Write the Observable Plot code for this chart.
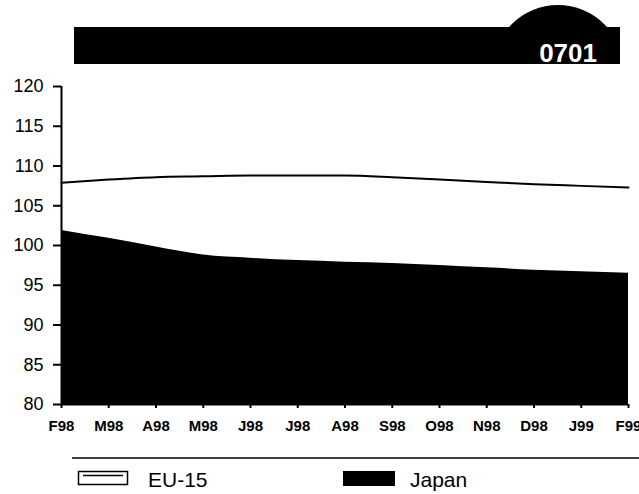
<!DOCTYPE html>
<html><head><meta charset="utf-8">
<script src="https://cdn.jsdelivr.net/npm/d3@7"></script>
<script src="https://cdn.jsdelivr.net/npm/@observablehq/plot@0.6"></script>
<style>
body{margin:0;background:#fff;font-family:"Liberation Sans",Arial,Helvetica,sans-serif;}
#page{position:relative;width:639px;height:494px;overflow:hidden;background:#fff;}
#header{position:absolute;left:0;top:0;}
#chart{position:absolute;left:0;top:70px;}
#legend{position:absolute;left:0;top:440px;}
</style>
</head><body>
<div id="page">
  <svg id="header" width="639" height="70">
    <defs>
      <clipPath id="domeClip"><rect x="0" y="0" width="639" height="28"></rect></clipPath>
    </defs>
    <circle cx="558" cy="70.5" r="65.5" fill="#000" clip-path="url(#domeClip)"></circle>
    <rect x="74" y="27" width="546" height="37" fill="#000"></rect>
    <text x="597" y="62" text-anchor="end" fill="#fff" font-size="26" font-weight="bold" font-family="Liberation Sans, Arial, sans-serif">0701</text>
  </svg>
  <div id="chart"></div>
  <svg id="legend" width="639" height="54">
    <line x1="72" x2="639" y1="18" y2="18" stroke="#000" stroke-width="1.5"></line>
    <rect x="78.5" y="31.5" width="49" height="13" fill="#fff" stroke="#000" stroke-width="1.5"></rect>
    <line x1="83" x2="123" y1="35.5" y2="35.5" stroke="#000" stroke-width="1.5"></line>
    <text x="148" y="47" font-size="21" fill="#000" font-family="Liberation Sans, Arial, sans-serif">EU-15</text>
    <rect x="343" y="31" width="52" height="15" fill="#000"></rect>
    <text x="410" y="47" font-size="21" fill="#000" font-family="Liberation Sans, Arial, sans-serif">Japan</text>
  </svg>
</div>
<script>
const months = ["F98","M98","A98","M98","J98","J98","A98","S98","O98","N98","D98","J99","F99"];
const eu15  = [107.9,108.3,108.6,108.7,108.8,108.8,108.8,108.6,108.3,108.0,107.7,107.5,107.3];
const japan = [101.9,100.9,99.8,98.8,98.4,98.1,97.9,97.75,97.5,97.2,96.9,96.7,96.5];
const yTicks = [80,85,90,95,100,105,110,115,120];

const data = months.map((m, i) => ({i, eu: eu15[i], jp: japan[i]}));

const chart = Plot.plot({
  width: 639,
  height: 375,
  marginTop: 16,
  marginBottom: 41,
  marginLeft: 61,
  marginRight: 11,
  style: {fontFamily: "Liberation Sans, Arial, Helvetica, sans-serif", background: "transparent", color: "#000"},
  x: {domain: [0, 12]},
  y: {domain: [80, 120]},
  marks: [
    Plot.areaY(data, {x: "i", y1: 80, y2: "eu", fill: "white", curve: "monotone-x"}),
    Plot.lineY(data, {x: "i", y: "eu", stroke: "black", strokeWidth: 2, curve: "monotone-x"}),
    Plot.areaY(data, {x: "i", y1: 80, y2: "jp", fill: "black", curve: "monotone-x"}),
    Plot.axisY({ticks: yTicks, tickSize: 8, tickPadding: 10, fontSize: 18, strokeWidth: 2, label: null}),
    Plot.axisX({ticks: d3.range(months.length), tickFormat: i => months[i], tickSize: 4, tickPadding: 12, fontSize: 15, fontWeight: "bold", strokeWidth: 2, label: null}),
    Plot.ruleX([0], {y1: 80, y2: 120, strokeWidth: 2}),
    Plot.ruleY([80], {strokeWidth: 2})
  ]
});
document.getElementById("chart").appendChild(chart);
</script>
</body></html>
